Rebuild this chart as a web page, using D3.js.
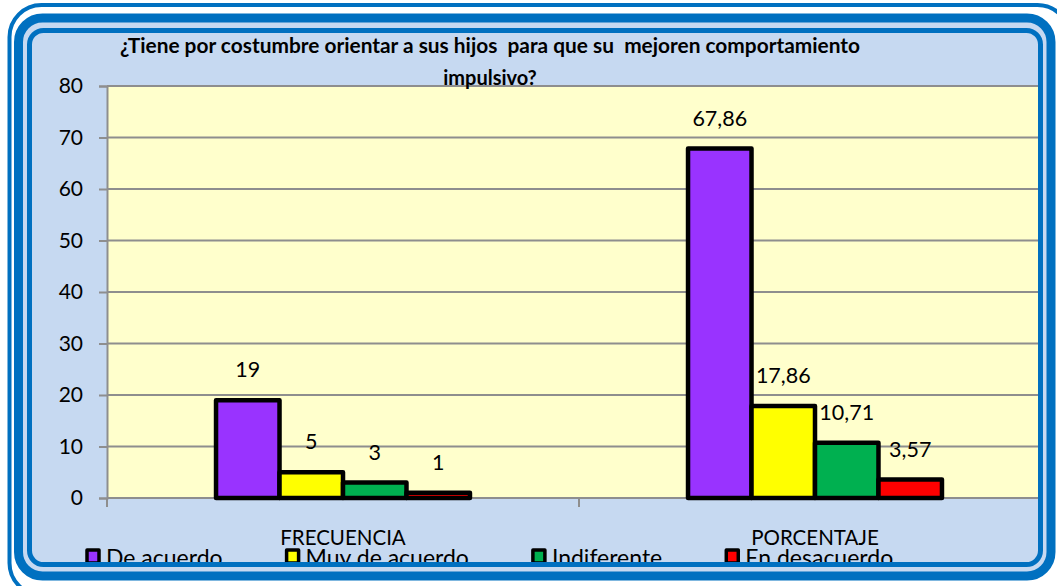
<!DOCTYPE html>
<html>
<head>
<meta charset="utf-8">
<script src="https://cdn.jsdelivr.net/npm/d3@7"></script>
<style>
  body { margin: 0; background: #fff; }
  svg { display: block; }
  text { font-family: Lato, 'Open Sans', sans-serif; fill: #000; }
</style>
</head>
<body>
<svg id="chart" width="1057" height="586"></svg>
<script>
const categories = ['FRECUENCIA', 'PORCENTAJE'];
const series = ['De acuerdo', 'Muy de acuerdo', 'Indiferente', 'En desacuerdo'];
const frecuencia = [19, 5, 3, 1];
const porcentaje = [67.86, 17.86, 10.71, 3.57];
const yTicks = [0, 10, 20, 30, 40, 50, 60, 70, 80];
const colors = ['#9933FF', '#FFFF00', '#00B050', '#FF0000'];
const titleLines = [
  '¿Tiene por costumbre orientar a sus hijos  para que su  mejoren comportamiento',
  'impulsivo?'
];

const W = 1057, H = 586;
const blue = '#0070C0';
const paleBlue = '#C6D9F1';
const gridColor = '#8E8E8E';

const plot = { left: 107, right: 1051, top: 86, bottom: 498 };

const svg = d3.select('#chart');

// frame: outer thin line, thick band, inner panel
svg.append('rect')
  .attr('x', 9.5).attr('y', 5).attr('width', 1060).attr('height', 590)
  .attr('rx', 32).attr('fill', '#fff').attr('stroke', blue).attr('stroke-width', 4);
svg.append('rect')
  .attr('x', 18.5).attr('y', 18).attr('width', 1051 - 18.5).attr('height', 576 - 18)
  .attr('rx', 24).attr('fill', paleBlue).attr('stroke', blue).attr('stroke-width', 9);

const inner = { x: 29.5, y: 30.5, w: 1040.5 - 29.5, h: 564.5 - 30.5, r: 14 };
svg.append('rect')
  .attr('x', inner.x).attr('y', inner.y).attr('width', inner.w).attr('height', inner.h)
  .attr('rx', inner.r).attr('fill', paleBlue);

svg.append('clipPath').attr('id', 'clip')
  .append('rect')
  .attr('x', inner.x).attr('y', inner.y).attr('width', inner.w).attr('height', inner.h)
  .attr('rx', inner.r);

const g = svg.append('g').attr('clip-path', 'url(#clip)');

// scales
const x = d3.scaleBand().domain(categories).range([plot.left, plot.right]);
const x1 = d3.scaleBand().domain(series)
  .range([x.bandwidth() * 0.231, x.bandwidth() * 0.769]);
const y = d3.scaleLinear().domain([0, 80]).range([plot.bottom, plot.top]);

// plot background
g.append('rect')
  .attr('x', plot.left).attr('y', plot.top)
  .attr('width', plot.right - plot.left).attr('height', plot.bottom - plot.top)
  .attr('fill', '#FFFFCC');

// gridlines
g.append('g').selectAll('line')
  .data(yTicks.filter(d => d > 0))
  .join('line')
  .attr('x1', plot.left).attr('x2', plot.right)
  .attr('y1', d => y(d)).attr('y2', d => y(d))
  .attr('stroke', gridColor).attr('stroke-width', 2);

// y axis
const yAxis = g.append('g')
  .attr('transform', `translate(${plot.left},0)`)
  .call(d3.axisLeft(y).tickValues(yTicks).tickSize(8).tickPadding(16));
yAxis.select('.domain').attr('stroke', gridColor).attr('stroke-width', 2);
yAxis.selectAll('.tick line').attr('stroke', gridColor).attr('stroke-width', 2);
yAxis.selectAll('.tick text')
  .attr('font-size', 21).attr('fill', '#000')
  .style('font-family', 'Lato, sans-serif');

// x axis
g.append('line')
  .attr('x1', plot.left).attr('x2', plot.right)
  .attr('y1', plot.bottom).attr('y2', plot.bottom)
  .attr('stroke', gridColor).attr('stroke-width', 2);
g.append('g').selectAll('line')
  .data(categories.map(c => x(c)).concat([plot.right]))
  .join('line')
  .attr('x1', d => d).attr('x2', d => d)
  .attr('y1', plot.bottom).attr('y2', plot.bottom + 9)
  .attr('stroke', gridColor).attr('stroke-width', 2);

g.append('g').selectAll('text')
  .data(categories)
  .join('text')
  .attr('x', d => x(d) + x.bandwidth() / 2)
  .attr('y', 545)
  .attr('text-anchor', 'middle')
  .attr('font-size', 20.5)
  .text(d => d);

// bars
const rows = [];
categories.forEach((c, ci) => {
  const vals = ci === 0 ? frecuencia : porcentaje;
  series.forEach((s, si) => rows.push({ cat: c, s, i: si, v: vals[si] }));
});

g.append('g').selectAll('rect')
  .data(rows)
  .join('rect')
  .attr('x', d => x(d.cat) + x1(d.s))
  .attr('y', d => y(d.v))
  .attr('width', x1.bandwidth())
  .attr('height', d => y(0) - y(d.v))
  .attr('fill', d => colors[d.i])
  .attr('stroke', '#000')
  .attr('stroke-width', 4.5)
  .attr('stroke-linejoin', 'round');

const fmt = v => String(v).replace('.', ',');
g.append('g').selectAll('text')
  .data(rows)
  .join('text')
  .attr('x', d => x(d.cat) + x1(d.s) + x1.bandwidth() / 2)
  .attr('y', d => y(d.v) - 23)
  .attr('text-anchor', 'middle')
  .attr('font-size', 21.5)
  .text(d => fmt(d.v));

// title
const title = g.append('g').selectAll('text')
  .data(titleLines)
  .join('text')
  .attr('x', 490)
  .attr('y', (d, i) => 53 + i * 32)
  .attr('text-anchor', 'middle')
  .attr('font-size', 20)
  .attr('font-weight', 'bold')
  .style('white-space', 'pre')
  .text(d => d);
title.filter((d, i) => i === 0)
  .attr('textLength', 740)
  .attr('lengthAdjust', 'spacingAndGlyphs');

// legend
const legend = g.append('g');
let lx = 85;
series.forEach((s, i) => {
  legend.append('rect')
    .attr('x', lx + 2).attr('y', 550)
    .attr('width', 12).attr('height', 13)
    .attr('fill', colors[i])
    .attr('stroke', '#000').attr('stroke-width', 3.5)
    .attr('stroke-linejoin', 'round');
  const t = legend.append('text')
    .attr('x', lx + 21).attr('y', 566)
    .attr('font-size', 23)
    .text(s);
  lx += 21 + t.node().getComputedTextLength() + 62;
});

// frame strokes on top
svg.append('rect')
  .attr('x', inner.x).attr('y', inner.y).attr('width', inner.w).attr('height', inner.h)
  .attr('rx', inner.r).attr('fill', 'none')
  .attr('stroke', blue).attr('stroke-width', 5);
</script>
</body>
</html>
